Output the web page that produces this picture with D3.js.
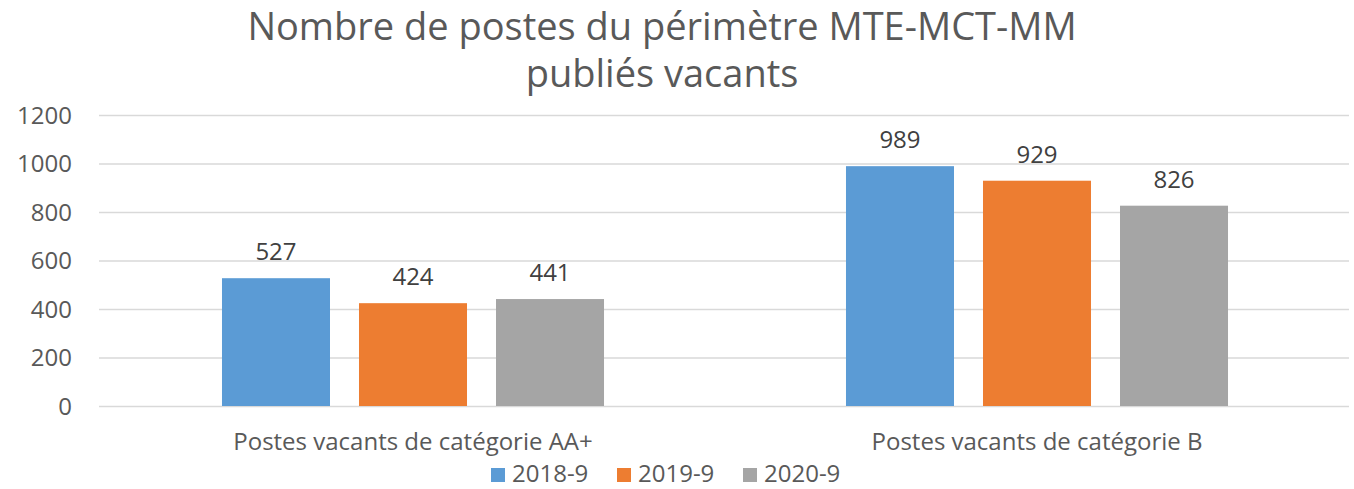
<!DOCTYPE html>
<html><head><meta charset="utf-8">
<script src="https://cdn.jsdelivr.net/npm/d3@7"></script>
<style>body{margin:0;background:#fff}svg{display:block}text{font-family:"Open Sans",sans-serif}</style>
</head><body><svg id="c" width="1354" height="489"></svg>
<script>
const categories = ["Postes vacants de catégorie AA+", "Postes vacants de catégorie B"];
const seriesNames = ["2018-9", "2019-9", "2020-9"];
const values2018 = [527, 989];
const values2019 = [424, 929];
const values2020 = [441, 826];
const yTicks = [0, 200, 400, 600, 800, 1000, 1200];
const titleLines = ["Nombre de postes du périmètre MTE-MCT-MM", "publiés vacants"];
const colors = ["#5b9bd5", "#ed7d31", "#a5a5a5"];

(function () {
const allValues = [values2018, values2019, values2020];
const svg = d3.select("#c");
const pLeft = 101, pRight = 1349, pTop = 115, pBottom = 406;

const x0 = d3.scaleBand().domain(categories).range([pLeft, pRight]).paddingInner(0).paddingOuter(0);
const x1 = d3.scaleBand().domain(seriesNames).range([0, x0.bandwidth()]).paddingInner(0.2117).paddingOuter(0.883);
const y = d3.scaleLinear().domain([0, 1200]).range([pBottom, pTop]);

// title
svg.append("g").selectAll("text").data(titleLines).join("text")
  .attr("x", 662).attr("y", (d, i) => 40 + i * 47)
  .attr("text-anchor", "middle").attr("fill", "#595959").attr("font-size", 38)
  .text(d => d);

// gridlines
const yAxis = d3.axisLeft(y).tickValues(yTicks).tickSize(-(pRight - pLeft + 2)).tickPadding(27).tickFormat(d3.format("d"));
const ga = svg.append("g").attr("transform", `translate(${pLeft - 2},0)`).call(yAxis);
ga.select(".domain").remove();
ga.selectAll(".tick line").attr("stroke", "#d9d9d9").attr("stroke-width", 1.5);
ga.selectAll(".tick text").attr("fill", "#595959").attr("font-size", 24).attr("font-family", "Open Sans").attr("dy", "0.35em");

// bars
const rows = (c, ci) => seriesNames.map((s, si) => ({s, v: allValues[si][ci], si}));
const groups = svg.append("g").selectAll("g").data(categories).join("g")
  .attr("transform", d => `translate(${x0(d)},0)`);
groups.selectAll("rect").data(rows).join("rect")
  .attr("x", d => x1(d.s)).attr("width", x1.bandwidth())
  .attr("y", d => y(d.v)).attr("height", d => y(0) - y(d.v))
  .attr("fill", d => colors[d.si]);
groups.selectAll("text.lbl").data(rows).join("text").attr("class", "lbl")
  .attr("x", d => x1(d.s) + x1.bandwidth() / 2).attr("y", d => y(d.v) - 18)
  .attr("text-anchor", "middle").attr("fill", "#404040").attr("font-size", 24)
  .text(d => d.v);

// x axis labels
svg.append("g").selectAll("text").data(categories).join("text")
  .attr("x", d => x0(d) + x0.bandwidth() / 2).attr("y", 450)
  .attr("text-anchor", "middle").attr("fill", "#595959").attr("font-size", 24)
  .text(d => d);

// legend
const legX = [491, 617, 743];
const leg = svg.append("g").selectAll("g").data(seriesNames).join("g")
  .attr("transform", (d, i) => `translate(${legX[i]},0)`);
leg.append("rect").attr("x", 0).attr("y", 468).attr("width", 14).attr("height", 14).attr("fill", (d, i) => colors[i]);
leg.append("text").attr("x", 21).attr("y", 482).attr("fill", "#595959").attr("font-size", 24).text(d => d);
})();
</script></body></html>
